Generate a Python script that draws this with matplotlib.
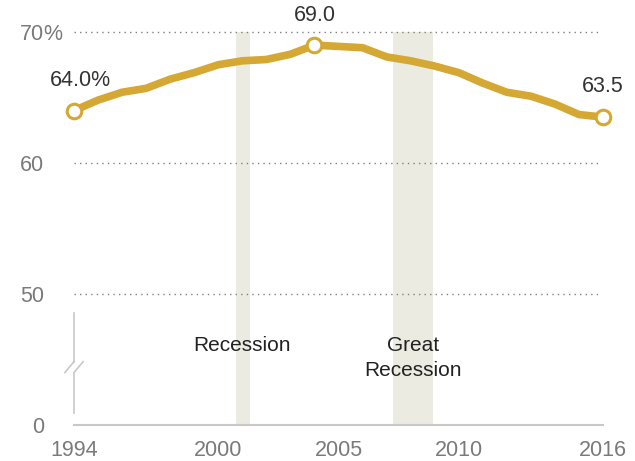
import matplotlib
matplotlib.use("Agg")
import matplotlib.pyplot as plt
import numpy as np
from matplotlib.scale import FuncScale

years = list(range(1994, 2017))
rates = [64.0, 64.8, 65.4, 65.7, 66.4, 66.9, 67.5, 67.8, 67.9, 68.3, 69.0,
         68.9, 68.8, 68.1, 67.8, 67.4, 66.9, 66.1, 65.4, 65.1, 64.5, 63.7, 63.5]
recessions = [(2000.72, 2001.3), (2007.25, 2008.92)]
recession_labels = ["Recession", "Great\nRecession"]
ytick_vals = [0, 50, 60, 70]
ytick_labels = ["0", "50", "60", "70"]
xtick_vals = [1994, 2000, 2005, 2010, 2016]
xtick_labels = ["1994", "2000", "2005", "2010", "2016"]

GOLD = "#d4a832"
BAND = "#ebebe2"
GRAY = "#7a7a7a"
DARK = "#333333"
FONT = "Liberation Sans"
FS = 15.5
plt.rcParams['font.family'] = [FONT, 'DejaVu Sans']


def fwd(v):
    v = np.asarray(v, dtype=float)
    return np.where(v >= 50, v, 40 + v / 5.0)


def inv(y):
    y = np.asarray(y, dtype=float)
    return np.where(y >= 50, y, (y - 40) * 5.0)


W, H = 635, 461
fig = plt.figure(figsize=(W / 100, H / 100), dpi=100)
ax = fig.add_axes([74 / W, 1 - 425 / H, (603 - 74) / W, (425 - 32) / H])
ax.set_yscale(FuncScale(ax, (fwd, inv)))
ax.set_xlim(1994, 2016)
ax.set_ylim(0, 70)

for s in ax.spines.values():
    s.set_visible(False)

# recession bands
for (a, b) in recessions:
    ax.axvspan(a, b, ymin=0, ymax=1, color=BAND, lw=0, zorder=0)

# gridlines
for v in [50, 60, 70]:
    ax.plot([1994, 2015.9], [v, v], color="#808080", lw=1.0,
            linestyle=(0, (1, 3)), zorder=1, clip_on=False)

# bottom axis line
ax.axhline(0, color="#c8c8c8", lw=1.5, zorder=2, clip_on=False)

# broken left axis
bc = "#c8c8c8"
ax.plot([1994, 1994], [4.5, 20.0], color=bc, lw=1.2, clip_on=False)
ax.plot([1994, 1994], [24.2, 42.8], color=bc, lw=1.2, clip_on=False)
ax.plot([1993.62, 1994], [20.0, 24.2], color=bc, lw=1.2, clip_on=False)
ax.plot([1994, 1994.38], [20.0, 24.2], color=bc, lw=1.2, clip_on=False)

# data line
ax.plot(years, rates, color=GOLD, lw=5.5, solid_joinstyle="round",
        solid_capstyle="round", zorder=4, clip_on=False)
idx = [0, years.index(2004), len(years) - 1]
ax.plot([years[i] for i in idx], [rates[i] for i in idx], 'o', ms=10.5,
        mfc="white", mec=GOLD, mew=2.2, zorder=5, clip_on=False)

# value labels
ax.annotate("64.0%", (years[0], rates[0]), xytext=(6, 30), textcoords="offset pixels",
            ha="center", va="center", fontsize=FS, color=DARK)
ax.annotate("69.0", (2004, rates[idx[1]]), xytext=(0, 30), textcoords="offset pixels",
            ha="center", va="center", fontsize=FS, color=DARK)
ax.annotate("63.5", (2016, rates[-1]), xytext=(0, 31), textcoords="offset pixels",
            ha="center", va="center", fontsize=FS, color=DARK)

# recession labels
ax.text(2001.0, 30.3, recession_labels[0], ha="center", va="center",
        fontsize=FS - 0.5, color="#222222")
ax.text(2008.1, 25.6, recession_labels[1], ha="center", va="center",
        fontsize=FS - 0.5, color="#222222", linespacing=1.35)

# ticks
ax.set_yticks(ytick_vals)
ax.set_yticklabels(ytick_labels)
ax.set_xticks(xtick_vals)
ax.set_xticklabels(xtick_labels)
ax.tick_params(axis="both", length=0, labelsize=FS, labelcolor=GRAY)
ax.tick_params(axis="y", pad=21.5)
ax.tick_params(axis="x", pad=11)
ax.minorticks_off()
# percent sign after the top tick label
ax.annotate("%", (0, 70), xycoords=("axes fraction", "data"), xytext=(-31, 0),
            textcoords="offset pixels", ha="left", va="center_baseline",
            fontsize=FS, color=GRAY)

fig.savefig("out.png", dpi=100)
